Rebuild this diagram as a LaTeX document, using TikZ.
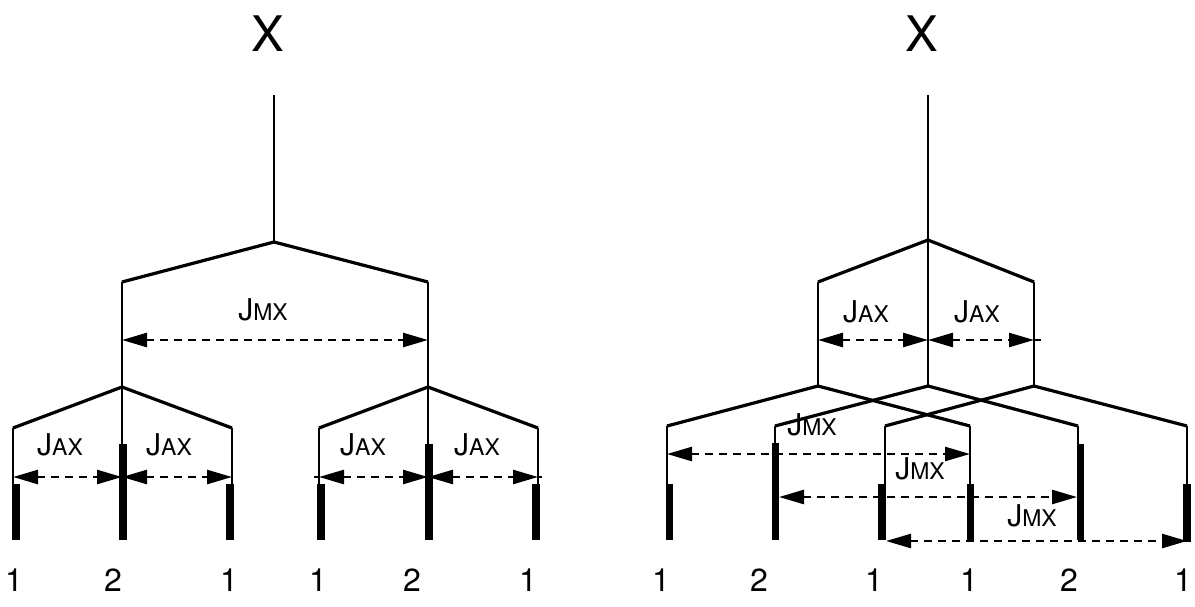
\documentclass[tikz,border=0pt]{standalone}
\usepackage{fontspec}
\setmainfont{TeX Gyre Heros}
\usetikzlibrary{arrows.meta}
\newcommand\capslbl[2]{{\fontsize{30}{30}\selectfont #1}{\fontsize{23}{23}\selectfont #2}}
\begin{document}
\begin{tikzpicture}[x=1pt,y=-1pt,
  thinv/.style={line width=2.3pt},
  diag/.style={line width=3.2pt},
  barline/.style={line width=7.5pt},
  dim/.style={line width=2.5pt, dash pattern=on 8pt off 6pt,
    {Triangle[length=25pt,width=14pt]}-{Triangle[length=25pt,width=14pt]}},
  stub/.style={line width=2.5pt},
  big/.style={inner sep=0pt, font=\fontsize{49}{49}\selectfont},
  num/.style={inner sep=0pt, font=\fontsize{32}{32}\selectfont},
  lab/.style={inner sep=0pt}]
\useasboundingbox (0,0) rectangle (1195,606);

% ================= LEFT TREE =================
\node[big] (LX) at (268,34) {X};
\coordinate (Ltop) at (274,95);
\coordinate (Lroot) at (274,242);
\coordinate (LA) at (122,282);
\coordinate (LB) at (428,282);
\coordinate (LAb) at (122,387);
\coordinate (LBb) at (428,387);
\coordinate (l1) at (13,428);  \coordinate (l1e) at (13,539);
\coordinate (l2e) at (122,539);
\coordinate (l3) at (232,428); \coordinate (l3e) at (232,539);
\coordinate (l4) at (319,428); \coordinate (l4e) at (319,539);
\coordinate (l5e) at (428,539);
\coordinate (l6) at (538,428); \coordinate (l6e) at (538,539);

\draw[thinv] (Ltop) -- (Lroot);
\draw[diag] (Lroot) -- (LA);
\draw[diag] (Lroot) -- (LB);
\draw[thinv] (LA) -- (LAb);
\draw[thinv] (LB) -- (LBb);
\draw[diag] (LAb) -- (l1);
\draw[diag] (LAb) -- (l3);
\draw[diag] (LBb) -- (l4);
\draw[diag] (LBb) -- (l6);
\draw[thinv] (l1) -- (l1e);
\draw[thinv] (LAb) -- (l2e);
\draw[thinv] (l3) -- (l3e);
\draw[thinv] (l4) -- (l4e);
\draw[thinv] (LBb) -- (l5e);
\draw[thinv] (l6) -- (l6e);

% thick bars
\coordinate (lb1t) at (16,484);  \coordinate (lb1b) at (16,540);
\coordinate (lb2t) at (123,444); \coordinate (lb2b) at (123,540);
\coordinate (lb3t) at (230,484); \coordinate (lb3b) at (230,540);
\coordinate (lb4t) at (321,484); \coordinate (lb4b) at (321,540);
\coordinate (lb5t) at (429,444); \coordinate (lb5b) at (429,540);
\coordinate (lb6t) at (536,484); \coordinate (lb6b) at (536,540);
\foreach \i in {1,...,6} {\draw[barline] (lb\i t) -- (lb\i b);}

% dimension arrows
\coordinate (LJm1) at (122,340); \coordinate (LJm2) at (428,340);
\draw[dim] (LJm1) -- (LJm2);
\node[lab] (LJMX) at (263,310) {\capslbl{J}{MX}};

\coordinate (la1) at (13,477);  \coordinate (la2) at (122,477);
\coordinate (la3) at (232,477); \coordinate (la4) at (319,477);
\coordinate (la5) at (428,477); \coordinate (la6) at (538,477);
\coordinate (la4s) at (314,477); \coordinate (la6s) at (542,477);
\draw[dim] (la1) -- (la2);
\draw[dim] (la2) -- (la3);
\draw[dim] (la4) -- (la5);
\draw[dim] (la5) -- (la6);
\draw[stub] (la4) -- (la4s);
\draw[stub] (la6) -- (la6s);
\node[lab] (LJA1) at (60,445) {\capslbl{J}{AX}};
\node[lab] (LJA2) at (169,445) {\capslbl{J}{AX}};
\node[lab] (LJA3) at (363,445) {\capslbl{J}{AX}};
\node[lab] (LJA4) at (477,445) {\capslbl{J}{AX}};

\node[num] (Ln1) at (14,580) {1};
\node[num] (Ln2) at (113,580) {2};
\node[num] (Ln3) at (229,580) {1};
\node[num] (Ln4) at (318,580) {1};
\node[num] (Ln5) at (412,580) {2};
\node[num] (Ln6) at (528,580) {1};

% ================= RIGHT TREE =================
\node[big] (RX) at (922,34) {X};
\coordinate (Rtop) at (928,95);
\coordinate (Rroot) at (928,240);
\coordinate (RA) at (818,282);
\coordinate (RB) at (1034,282);
\coordinate (RAb) at (818,386);
\coordinate (RM) at (928,386);
\coordinate (RBb) at (1034,386);
\coordinate (r1) at (667,426);  \coordinate (r1e) at (667,539);
\coordinate (r2) at (775,426);  \coordinate (r2e) at (775,539);
\coordinate (r3) at (885,426);  \coordinate (r3e) at (885,539);
\coordinate (r4) at (970,426);  \coordinate (r4e) at (970,539);
\coordinate (r5) at (1078,426); \coordinate (r5e) at (1078,539);
\coordinate (r6) at (1187,426); \coordinate (r6e) at (1187,539);

\draw[thinv] (Rtop) -- (RM);
\draw[diag] (Rroot) -- (RA);
\draw[diag] (Rroot) -- (RB);
\draw[thinv] (RA) -- (RAb);
\draw[thinv] (RB) -- (RBb);
\draw[diag] (RAb) -- (r1);
\draw[diag] (RAb) -- (r4);
\draw[diag] (RM) -- (r2);
\draw[diag] (RM) -- (r5);
\draw[diag] (RBb) -- (r3);
\draw[diag] (RBb) -- (r6);
\foreach \i in {1,...,6} {\draw[thinv] (r\i) -- (r\i e);}

\coordinate (rb1t) at (669.5,484); \coordinate (rb1b) at (669.5,540);
\coordinate (rb2t) at (775.5,443); \coordinate (rb2b) at (775.5,540);
\coordinate (rb3t) at (882,484);   \coordinate (rb3b) at (882,540);
\coordinate (rb4t) at (970.5,484); \coordinate (rb4b) at (970.5,540);
\coordinate (rb5t) at (1080.5,444);\coordinate (rb5b) at (1080.5,540);
\coordinate (rb6t) at (1187,484);  \coordinate (rb6b) at (1187,542);
\foreach \i in {1,...,6} {\draw[barline] (rb\i t) -- (rb\i b);}

\coordinate (RJa1) at (818,340); \coordinate (RJa2) at (928,340);
\coordinate (RJa3) at (1034,340); \coordinate (RJa3s) at (1041,340);
\draw[dim] (RJa1) -- (RJa2);
\draw[dim] (RJa2) -- (RJa3);
\draw[stub] (RJa3) -- (RJa3s);
\node[lab] (RJA1) at (866,312) {\capslbl{J}{AX}};
\node[lab] (RJA2) at (977,312) {\capslbl{J}{AX}};

\coordinate (m1a) at (667,454); \coordinate (m1b) at (970,454);
\coordinate (m2a) at (779,497); \coordinate (m2b) at (1077,497);
\coordinate (m3a) at (886,541); \coordinate (m3b) at (1187,541);
\draw[dim] (m1a) -- (m1b);
\draw[dim] (m2a) -- (m2b);
\draw[dim] (m3a) -- (m3b);
\node[lab] (RJM1) at (812,425) {\capslbl{J}{MX}};
\node[lab] (RJM2) at (920,469) {\capslbl{J}{MX}};
\node[lab] (RJM3) at (1032,516) {\capslbl{J}{MX}};

\node[num] (Rn1) at (661,580) {1};
\node[num] (Rn2) at (759,580) {2};
\node[num] (Rn3) at (874,580) {1};
\node[num] (Rn4) at (969,580) {1};
\node[num] (Rn5) at (1069,580) {2};
\node[num] (Rn6) at (1183,580) {1};
\end{tikzpicture}
\end{document}
